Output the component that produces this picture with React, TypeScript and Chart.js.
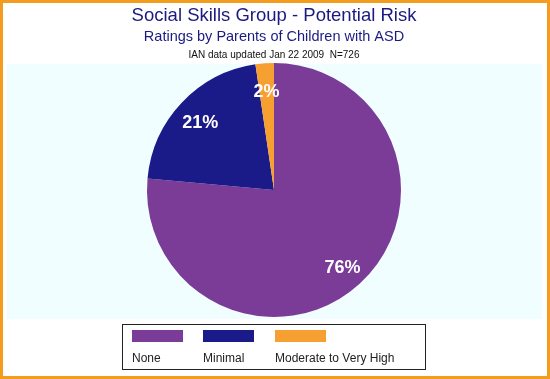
import React, { useEffect, useRef } from "react";
import { Chart, registerables } from "chart.js";

Chart.register(...registerables);

const categories = ["None", "Minimal", "Moderate to Very High"];
const counts = [555, 154, 17];
const colors = ["#7B3C98", "#1A1A88", "#F7A032"];
const titleText = "Social Skills Group - Potential Risk";
const subtitleText = "Ratings by Parents of Children with ASD";
const noteText = "IAN data updated Jan 22 2009  N=726";

const FONT = "'Liberation Sans', Arial, sans-serif";

const decorPlugin = {
  id: "decor",
  beforeDraw(chart: any) {
    const ctx = chart.ctx;
    const W = chart.width;
    const H = chart.height;
    ctx.save();
    ctx.fillStyle = "#ffffff";
    ctx.fillRect(0, 0, W, H);
    // orange frame
    ctx.fillStyle = "#F39C1E";
    ctx.fillRect(0, 0, W, 3);
    ctx.fillRect(0, H - 3, W, 3);
    ctx.fillRect(0, 0, 3, H);
    ctx.fillRect(W - 3, 0, 3, H);
    // plot panel
    ctx.fillStyle = "#F0FEFF";
    ctx.fillRect(7, 64, 535, 255);
    // titles
    ctx.textAlign = "center";
    ctx.textBaseline = "middle";
    ctx.fillStyle = "#1A1A80";
    ctx.font = `18.5px ${FONT}`;
    ctx.fillText(titleText, 274, 16);
    ctx.font = `14.5px ${FONT}`;
    ctx.fillText(subtitleText, 274, 37);
    ctx.fillStyle = "#111111";
    ctx.font = `10px ${FONT}`;
    ctx.fillText(noteText, 274, 55);
    // legend
    ctx.strokeStyle = "#222222";
    ctx.lineWidth = 1;
    ctx.strokeRect(122.5, 324.5, 303, 45);
    const xs = [132, 203, 275];
    ctx.textAlign = "left";
    ctx.textBaseline = "middle";
    ctx.font = `12px ${FONT}`;
    categories.forEach((c, i) => {
      ctx.fillStyle = colors[i];
      ctx.fillRect(xs[i], 330, 51, 12);
      ctx.fillStyle = "#222222";
      ctx.fillText(c, xs[i], 359);
    });
    ctx.restore();
  },
  afterDatasetsDraw(chart: any) {
    const ctx = chart.ctx;
    const meta = chart.getDatasetMeta(0);
    const data = chart.data.datasets[0].data as number[];
    const total = data.reduce((a, b) => a + b, 0);
    ctx.save();
    ctx.fillStyle = "#ffffff";
    ctx.font = `bold 18px ${FONT}`;
    ctx.textAlign = "center";
    ctx.textBaseline = "middle";
    meta.data.forEach((arc: any, i: number) => {
      const p = arc.getProps(["x", "y", "startAngle", "endAngle", "outerRadius"], true);
      const mid = (p.startAngle + p.endAngle) / 2;
      const r = p.outerRadius * 0.8;
      const pct = Math.round((data[i] / total) * 100);
      ctx.fillText(pct + "%", p.x + Math.cos(mid) * r, p.y + Math.sin(mid) * r + 3);
    });
    ctx.restore();
  },
};

export default function App() {
  const ref = useRef<HTMLCanvasElement>(null);
  useEffect(() => {
    if (!ref.current) return;
    const chart = new Chart(ref.current, {
      type: "pie",
      data: {
        labels: categories,
        datasets: [
          {
            data: counts,
            backgroundColor: colors,
            borderWidth: 0,
          },
        ],
      },
      options: {
        responsive: false,
        animation: false,
        devicePixelRatio: 1,
        layout: { padding: { top: 63, bottom: 62, left: 0, right: 2 } },
        plugins: {
          legend: { display: false },
          title: { display: false },
          tooltip: { enabled: false },
        },
      },
      plugins: [decorPlugin],
    });
    return () => chart.destroy();
  }, []);
  return (
    <div style={{ position: "fixed", left: 0, top: 0 }}>
      <canvas ref={ref} width={550} height={379} style={{ display: "block" }} />
    </div>
  );
}
